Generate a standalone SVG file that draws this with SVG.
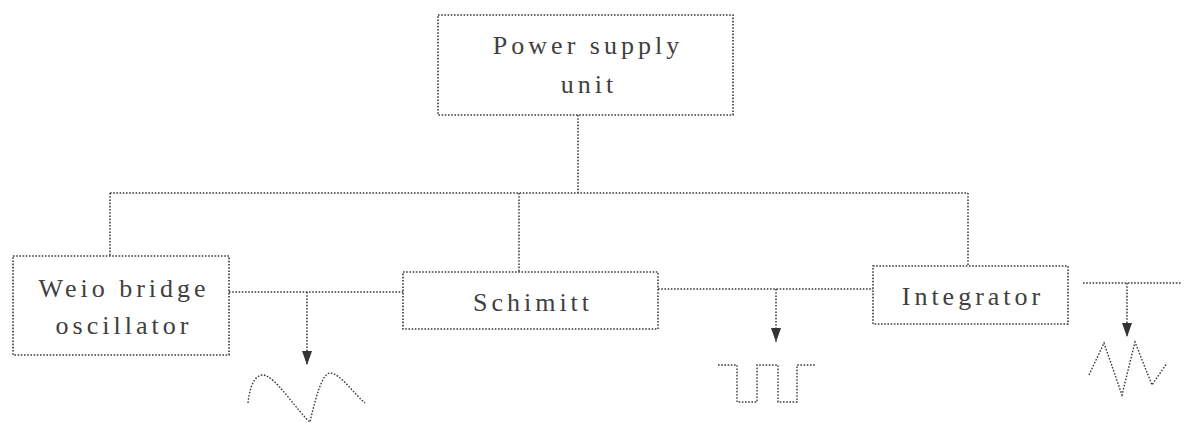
<svg xmlns="http://www.w3.org/2000/svg" width="1187" height="423" viewBox="0 0 1187 423">
<style>
.box{fill:none;stroke:#3a3a3a;stroke-width:1.6;stroke-dasharray:1.6 1.6}
.ln{fill:none;stroke:#3a3a3a;stroke-width:1.5;stroke-dasharray:1.6 1.6}
.wave{fill:none;stroke:#3a3a3a;stroke-width:1.4;stroke-dasharray:1.6 1.6}
.t{font-family:"Liberation Serif","Times New Roman",serif;font-size:26px;letter-spacing:4px;fill:#404040;text-anchor:middle}
</style>
<defs>
<marker id="ah" viewBox="0 0 14 10" refX="14" refY="5" markerWidth="14" markerHeight="10" markerUnits="userSpaceOnUse" orient="auto">
<path d="M0,0 L14,5 L0,10 Z" fill="#333"/>
</marker>
</defs>
<rect width="1187" height="423" fill="#fff"/>
<g id="connectors">
<path class="ln" d="M578,115 V193"/>
<path class="ln" d="M110,193 H968"/>
<path class="ln" d="M110,193 V256"/>
<path class="ln" d="M519,193 V272"/>
<path class="ln" d="M968,193 V266"/>
<path class="ln" d="M229,292 H403"/>
<path class="ln" d="M658,289 H873"/>
<path class="ln" d="M1083,283 H1182"/>
<path class="ln" d="M307,292 V365" marker-end="url(#ah)"/>
<path class="ln" d="M776,289 V342" marker-end="url(#ah)"/>
<path class="ln" d="M1127,283 V337" marker-end="url(#ah)"/>
</g>
<g id="power">
<rect class="box" x="438" y="15" width="295" height="100"/>
<text class="t" x="588" y="54">Power supply</text>
<text class="t" x="589" y="93">unit</text>
</g>
<g id="weio">
<rect class="box" x="13" y="256" width="216" height="99"/>
<text class="t" x="124" y="297">Weio bridge</text>
<text class="t" x="124" y="334">oscillator</text>
</g>
<g id="schimitt">
<rect class="box" x="403" y="272" width="255" height="57"/>
<text class="t" x="533" y="311">Schimitt</text>
</g>
<g id="integrator">
<rect class="box" x="873" y="266" width="195" height="58"/>
<text class="t" x="973" y="305">Integrator</text>
</g>
<g id="sine-wave">
<path class="wave" d="M248,403 C250,385 255,375 263,375 C275,375 300,415 310,422 C315,400 322,373 330,373 C340,373 355,395 365,403"/>
</g>
<g id="square-wave">
<path class="wave" d="M718,365 H737 V402 H757 V365 H778 V402 H797 V365 H815"/>
</g>
<g id="triangle-wave">
<path class="wave" d="M1089,375 L1104,343 L1122,395 L1135,342 L1152,385 L1167,363"/>
</g>
</svg>
